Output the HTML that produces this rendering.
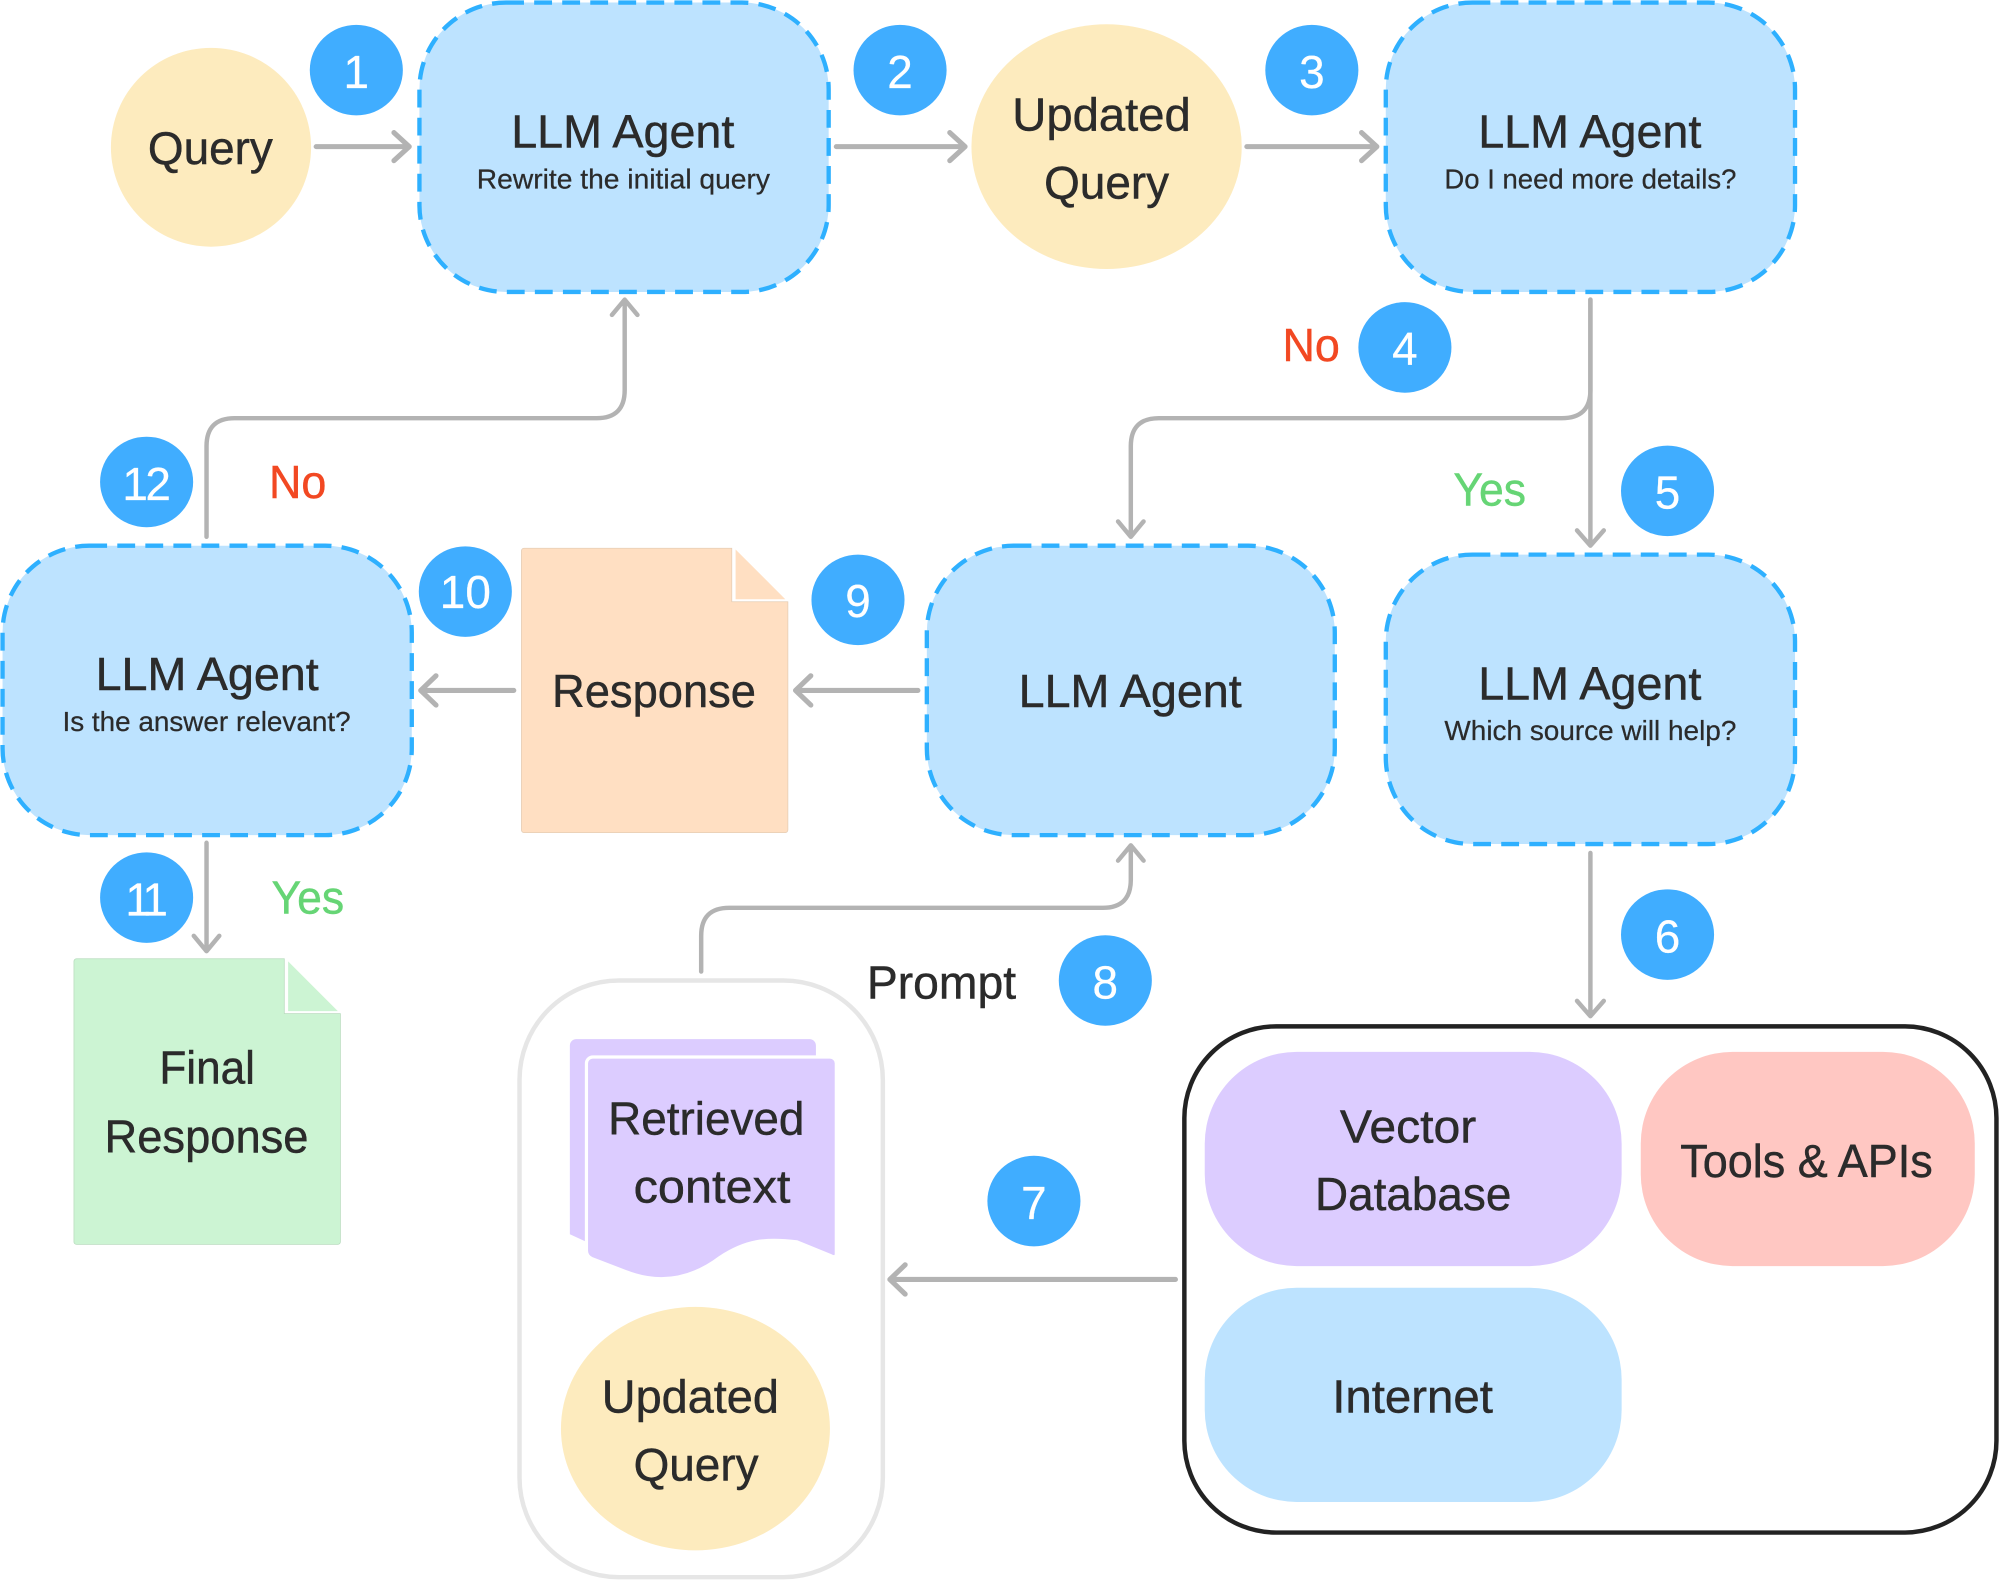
<!DOCTYPE html>
<html><head><meta charset="utf-8"><style>
html,body{margin:0;padding:0;background:#fff}
svg{display:block}
text{font-family:"Liberation Sans",sans-serif;font-size:36px;fill:#2b2b2b;stroke:#2b2b2b;stroke-width:.35px}
.s{font-size:22px;stroke-width:.2px}
.n{fill:#fff;stroke:#fff;text-anchor:middle;font-size:36px;stroke-width:.2px}
.a{fill:none;stroke:#b3b3b3;stroke-width:4;stroke-linecap:round;stroke-linejoin:round}
.b{fill:#bde3ff;stroke:#2eb0ff;stroke-width:3.4;stroke-dasharray:14 8}
.d{fill:#40adff}
.no{fill:#f24822;stroke:#f24822}
.yes{fill:#66d575;stroke:#66d575}
</style></head><body>
<svg xmlns="http://www.w3.org/2000/svg" width="1999" height="1581" viewBox="0 0 1568 1240" preserveAspectRatio="none">
<rect width="1568" height="1240" fill="#fff"/>

<!-- ellipses -->
<ellipse cx="165.500" cy="115.500" rx="78.500" ry="78" fill="#fdebbe"/>
<ellipse cx="868" cy="115" rx="106" ry="96" fill="#fdebbe"/>

<!-- agents -->
<rect class="b" x="329" y="2" width="321" height="227" rx="68" ry="68"/>
<rect class="b" x="1087" y="2" width="321" height="227" rx="68" ry="68"/>
<rect class="b" x="2" y="428" width="321" height="227" rx="68" ry="68"/>
<rect class="b" x="727" y="428" width="320" height="227" rx="68" ry="68"/>
<rect class="b" x="1087" y="435" width="321" height="227" rx="68" ry="68"/>

<!-- response doc -->
<path d="M411 430H574V472H618V651a2 2 0 0 1-2 2H411a2 2 0 0 1-2-2V432a2 2 0 0 1 2-2Z" fill="#ffdfc2" stroke="#e5cdb5" stroke-width=".6"/>
<path d="M577 431L616 470H577Z" fill="#ffdfc2"/>
<!-- final doc -->
<path d="M60 752H223V795H267V974a2 2 0 0 1-2 2H60a2 2 0 0 1-2-2V754a2 2 0 0 1 2-2Z" fill="#ccf4d3" stroke="#b8dcbe" stroke-width=".6"/>
<path d="M226 754L265 793H226Z" fill="#ccf4d3"/>

<!-- prompt group -->
<rect x="407.500" y="769" width="285" height="468" rx="78" ry="78" fill="#fff" stroke="#e6e6e6" stroke-width="3.500"/>
<path d="M447 820a5 5 0 0 1 5-5H635a5 5 0 0 1 5 5V960H460V974L447 968Z" fill="#dcccff"/>
<path d="M460 834a5 5 0 0 1 5-5H651a5 5 0 0 1 5 5V983q0 4-4 2L625 974C600 971 585 973 565 986C540 1005 515 1007 490 997L464 987q-4-2-4-6Z" fill="#dcccff" stroke="#fff" stroke-width="2.500"/>
<ellipse cx="545.500" cy="1120.500" rx="105.500" ry="95.500" fill="#fdebbe"/>

<!-- sources -->
<rect x="929" y="805" width="637" height="397" rx="72" ry="72" fill="#fff" stroke="#222" stroke-width="3.500"/>
<rect x="945" y="825" width="327" height="168" rx="72" ry="72" fill="#dcccff"/>
<rect x="1287" y="825" width="262" height="168" rx="72" ry="72" fill="#ffc7c2"/>
<rect x="945" y="1010" width="327" height="168" rx="72" ry="72" fill="#bde3ff"/>

<!-- arrows -->
<path class="a" d="M248 115H320M309 104L321 115L309 126"/>
<path class="a" d="M656 115H756M745 104L757 115L745 126"/>
<path class="a" d="M978 115H1079M1068 104L1080 115L1068 126"/>
<path class="a" d="M1247.500 235V306Q1247.500 328 1225 328H909Q887 328 887 350V420M877 409L887 421L897 409" style="stroke-width:3.500"/>
<path class="a" d="M1247.500 235V428M1237 416L1247.500 428L1258 416" style="stroke-width:3.500"/>
<path class="a" d="M1247.500 669V797M1237 785L1247.500 797L1258 785" style="stroke-width:3.500"/>
<path class="a" d="M922 1003.500H699M710 992L698 1003.500L710 1015"/>
<path class="a" d="M550 762V734Q550 712 572 712H865Q887 712 887 690V664M877 675L887 663L897 675" style="stroke-width:3.500"/>
<path class="a" d="M720 541.500H625M636 530L624 541.500L636 553"/>
<path class="a" d="M403 541.500H331M342 530L330 541.500L342 553"/>
<path class="a" d="M162 661V745M152 734L162 746L172 734" style="stroke-width:3.500"/>
<path class="a" d="M162 421V350Q162 328 184 328H468Q490 328 490 306V236M480 247L490 235L500 247" style="stroke-width:3.500"/>

<!-- badges -->
<ellipse class="d" cx="279.500" cy="55" rx="36.500" ry="35.500"/><text class="n" x="279.500" y="69">1</text>
<ellipse class="d" cx="706" cy="55" rx="36.500" ry="35.500"/><text class="n" x="706" y="69">2</text>
<ellipse class="d" cx="1029" cy="55" rx="36.500" ry="35.500"/><text class="n" x="1029" y="69">3</text>
<ellipse class="d" cx="1102" cy="272.500" rx="36.500" ry="35.500"/><text class="n" x="1102" y="286">4</text>
<ellipse class="d" cx="1308" cy="385" rx="36.500" ry="35.500"/><text class="n" x="1308" y="399">5</text>
<ellipse class="d" cx="1308" cy="733" rx="36.500" ry="35.500"/><text class="n" x="1308" y="747">6</text>
<ellipse class="d" cx="811" cy="942" rx="36.500" ry="35.500"/><text class="n" x="811" y="956">7</text>
<ellipse class="d" cx="867" cy="769" rx="36.500" ry="35.500"/><text class="n" x="867" y="783">8</text>
<ellipse class="d" cx="673" cy="470.500" rx="36.500" ry="35.500"/><text class="n" x="673" y="484">9</text>
<ellipse class="d" cx="365" cy="464" rx="36.500" ry="35.500"/><text class="n" x="365" y="477">10</text>
<ellipse class="d" cx="115" cy="704" rx="36.500" ry="35.500"/><text class="n" x="113" y="718" style="letter-spacing:-4px">11</text>
<ellipse class="d" cx="115" cy="378" rx="36.500" ry="35.500"/><text class="n" x="114" y="392" style="letter-spacing:-2px">12</text>

<!-- labels -->
<text x="116" y="128.500" textLength="98" lengthAdjust="spacingAndGlyphs">Query</text>
<text x="794" y="102.500" textLength="140" lengthAdjust="spacingAndGlyphs">Updated</text>
<text x="819" y="155.500" textLength="98" lengthAdjust="spacingAndGlyphs">Query</text>

<text x="401" y="115.500" textLength="175" lengthAdjust="spacingAndGlyphs">LLM Agent</text>
<text class="s" x="374" y="148" textLength="230" lengthAdjust="spacingAndGlyphs">Rewrite the initial query</text>
<text x="1159.500" y="115.500" textLength="175" lengthAdjust="spacingAndGlyphs">LLM Agent</text>
<text class="s" x="1133" y="148" textLength="229" lengthAdjust="spacingAndGlyphs">Do I need more details?</text>
<text x="75" y="541" textLength="175" lengthAdjust="spacingAndGlyphs">LLM Agent</text>
<text class="s" x="49" y="573.500" textLength="226" lengthAdjust="spacingAndGlyphs">Is the answer relevant?</text>
<text x="799" y="554.500" textLength="175" lengthAdjust="spacingAndGlyphs">LLM Agent</text>
<text x="1159.500" y="548.500" textLength="175" lengthAdjust="spacingAndGlyphs">LLM Agent</text>
<text class="s" x="1133" y="580.500" textLength="229" lengthAdjust="spacingAndGlyphs">Which source will help?</text>

<text x="433" y="554.500" textLength="160" lengthAdjust="spacingAndGlyphs">Response</text>
<text x="125" y="850" textLength="75" lengthAdjust="spacingAndGlyphs">Final</text>
<text x="82" y="904" textLength="160" lengthAdjust="spacingAndGlyphs">Response</text>

<text x="477" y="890" textLength="154" lengthAdjust="spacingAndGlyphs">Retrieved</text>
<text x="497" y="943" textLength="123" lengthAdjust="spacingAndGlyphs">context</text>
<text x="472" y="1108" textLength="139" lengthAdjust="spacingAndGlyphs">Updated</text>
<text x="497" y="1161" textLength="98" lengthAdjust="spacingAndGlyphs">Query</text>
<text x="680" y="783" textLength="117" lengthAdjust="spacingAndGlyphs">Prompt</text>

<text x="1051" y="896" textLength="107" lengthAdjust="spacingAndGlyphs">Vector</text>
<text x="1031.500" y="949" textLength="154" lengthAdjust="spacingAndGlyphs">Database</text>
<text x="1318" y="923" textLength="198" lengthAdjust="spacingAndGlyphs">Tools &amp; APIs</text>
<text x="1045" y="1108" textLength="126" lengthAdjust="spacingAndGlyphs">Internet</text>

<text class="no" x="1006" y="283" textLength="45" lengthAdjust="spacingAndGlyphs">No</text>
<text class="no" x="211" y="390.500" textLength="45" lengthAdjust="spacingAndGlyphs">No</text>
<text class="yes" x="1140" y="396.500" textLength="57" lengthAdjust="spacingAndGlyphs">Yes</text>
<text class="yes" x="213" y="716.500" textLength="57" lengthAdjust="spacingAndGlyphs">Yes</text>
</svg>
</body></html>
